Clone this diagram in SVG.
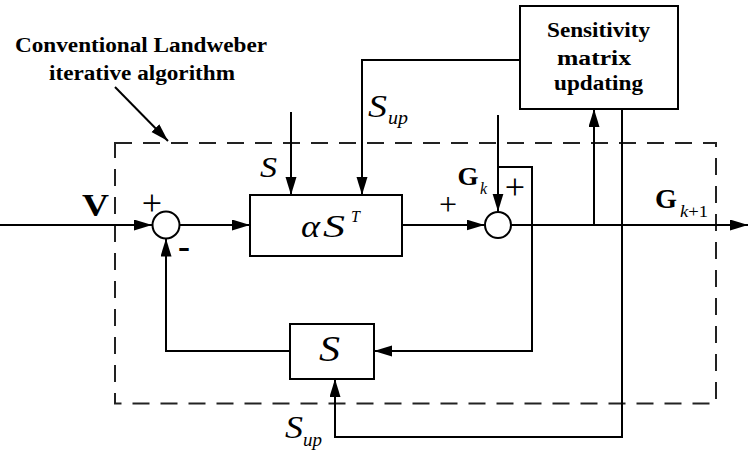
<svg xmlns="http://www.w3.org/2000/svg" width="748" height="454" viewBox="0 0 748 454">
<style>
.ln{fill:none;stroke:#000;stroke-width:2}
.box{fill:#fff;stroke:#000;stroke-width:2}
.dash{fill:none;stroke:#222;stroke-width:2;stroke-dasharray:17 11}
.b{font-family:"Liberation Serif","Times New Roman",serif;font-weight:bold;fill:#000}
.i{font-family:"Liberation Serif","Times New Roman",serif;font-style:italic;fill:#000}
.r{font-family:"Liberation Serif","Times New Roman",serif;fill:#000}
.pl{font-family:"Liberation Serif","Times New Roman",serif;font-size:36px;fill:#000;text-anchor:middle}
</style>
<defs>
<marker id="ah" markerUnits="userSpaceOnUse" markerWidth="18" markerHeight="12" refX="18" refY="5.5" orient="auto">
<path d="M0,0 L18,5.5 L0,11 z" fill="#000"/>
</marker>
</defs>
<rect width="748" height="454" fill="#fff"/>
<g id="frame">
<rect class="dash" x="115" y="143" width="601" height="260.5"/>
<text class="b" x="15" y="52" font-size="20" textLength="252" lengthAdjust="spacingAndGlyphs">Conventional Landweber</text>
<text class="b" x="49" y="80" font-size="20" textLength="186" lengthAdjust="spacingAndGlyphs">iterative algorithm</text>
</g>
<g id="connectors">
<path class="ln" d="M0,225 H152" marker-end="url(#ah)"/>
<path class="ln" d="M180,225 H250" marker-end="url(#ah)"/>
<path class="ln" d="M291,112 V195" marker-end="url(#ah)"/>
<path class="ln" d="M520,60 H362 V195" marker-end="url(#ah)"/>
<path class="ln" d="M402,225 H484.5" marker-end="url(#ah)"/>
<path class="ln" d="M498,115 V211.5" marker-end="url(#ah)"/>
<path class="ln" d="M498,167 H532 V351 H374" marker-end="url(#ah)"/>
<path class="ln" d="M511,225 H748" marker-end="url(#ah)"/>
<path class="ln" d="M594,225 V109" marker-end="url(#ah)"/>
<path class="ln" d="M622,109 V437 H335 V379" marker-end="url(#ah)"/>
<path class="ln" d="M290,351 H166 V238.5" marker-end="url(#ah)"/>
<path class="ln" d="M115,87 L168,141" marker-end="url(#ah)"/>
</g>
<g id="sum1">
<circle class="box" cx="166" cy="225" r="13.5"/>
<text class="pl" x="152" y="215">+</text>
<text class="b" x="184" y="258" font-size="36" text-anchor="middle">-</text>
</g>
<g id="alphaST">
<rect class="box" x="250" y="195" width="152" height="61"/>
<text class="i" x="301" y="237" font-size="32" textLength="19" lengthAdjust="spacingAndGlyphs">α</text>
<text class="i" x="323" y="237" font-size="31" textLength="22" lengthAdjust="spacingAndGlyphs">S</text>
<text class="i" x="351" y="222" font-size="16">T</text>
</g>
<g id="sum2">
<circle class="box" cx="498" cy="225" r="13"/>
<text class="pl" x="448" y="215" style="font-size:32px">+</text>
<text class="pl" x="515" y="199">+</text>
</g>
<g id="sensitivity">
<rect class="box" x="520" y="6" width="158" height="103"/>
<text class="b" x="547" y="37" font-size="20" textLength="103" lengthAdjust="spacingAndGlyphs">Sensitivity</text>
<text class="b" x="557" y="65" font-size="20" textLength="74" lengthAdjust="spacingAndGlyphs">matrix</text>
<text class="b" x="554" y="90" font-size="20" textLength="89" lengthAdjust="spacingAndGlyphs">updating</text>
</g>
<g id="Sblock">
<rect class="box" x="290" y="324" width="84" height="55"/>
<text class="i" x="319" y="361" font-size="36" textLength="21" lengthAdjust="spacingAndGlyphs">S</text>
</g>
<g id="labels">
<text class="b" x="82" y="216" font-size="32" textLength="27" lengthAdjust="spacingAndGlyphs">V</text>
<text class="i" x="260" y="177" font-size="30" textLength="17" lengthAdjust="spacingAndGlyphs">S</text>
<text class="i" x="368" y="116.5" font-size="32" textLength="19" lengthAdjust="spacingAndGlyphs">S</text>
<text class="i" x="388" y="124" font-size="19" textLength="20" lengthAdjust="spacingAndGlyphs">up</text>
<text class="b" x="457.5" y="185" font-size="26" textLength="21" lengthAdjust="spacingAndGlyphs">G</text>
<text class="i" x="480" y="194" font-size="16">k</text>
<text class="b" x="655" y="208" font-size="27" textLength="22" lengthAdjust="spacingAndGlyphs">G</text>
<text class="r" x="680" y="217" font-size="16" textLength="28" lengthAdjust="spacingAndGlyphs"><tspan class="i">k</tspan>+1</text>
<text class="i" x="285" y="438" font-size="32" textLength="18" lengthAdjust="spacingAndGlyphs">S</text>
<text class="i" x="303" y="446" font-size="19" textLength="19" lengthAdjust="spacingAndGlyphs">up</text>
</g>
</svg>
